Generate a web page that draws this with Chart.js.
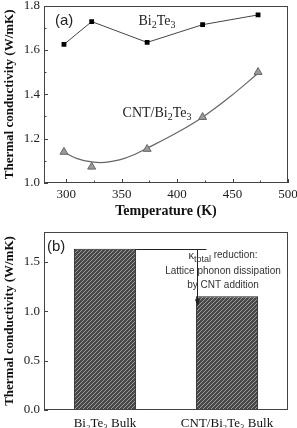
<!DOCTYPE html>
<html><head><meta charset="utf-8">
<script src="https://cdn.jsdelivr.net/npm/chart.js@4/dist/chart.umd.min.js"></script>
<style>
html,body{margin:0;padding:0;background:#fff;width:297px;height:428px;overflow:hidden}
canvas{position:absolute;left:0}
#c1{top:0}#c2{top:220px}
</style></head><body>
<canvas id="c1" width="297" height="220"></canvas>
<canvas id="c2" width="297" height="208"></canvas>
<script>
// ---- data ----
const temps = [298, 323, 373, 423, 473];
const bi2te3K = [1.625, 1.728, 1.634, 1.714, 1.758];
const cntK = [1.14, 1.073, 1.153, 1.297, 1.50];
const fitT = [298, 310, 323, 335, 348, 360, 373, 398, 423, 448, 473];
const fitK = [1.139, 1.110, 1.095, 1.093, 1.104, 1.125, 1.157, 1.222, 1.297, 1.39, 1.495];
const xTicksA = [300, 350, 400, 450, 500];
const xMinorA = [325, 375, 425, 475];
const yTicksA = [1.0, 1.2, 1.4, 1.6, 1.8];
const yMinorA = [1.1, 1.3, 1.5, 1.7];
const bulkCats = ['Bi\u2082Te\u2083 Bulk', 'CNT/Bi\u2082Te\u2083 Bulk'];
const bulkK = [1.63, 1.15];
const yTicksB = [0.0, 0.5, 1.0, 1.5];

const SERIF = "'Liberation Serif','Times New Roman',serif";
const SANS = "'Liberation Sans',Arial,sans-serif";

function drawChem(ctx, parts, x, y, size, align) {
  ctx.save();
  ctx.textBaseline = 'middle';
  ctx.textAlign = 'left';
  let w = 0;
  parts.forEach(p => { ctx.font = (p[1] ? Math.round(size*0.7) : size) + 'px ' + SERIF; w += ctx.measureText(p[0]).width; });
  let cx = align === 'center' ? x - w/2 : x;
  parts.forEach(p => {
    ctx.font = (p[1] ? Math.round(size*0.7) : size) + 'px ' + SERIF;
    ctx.fillText(p[0], cx, p[1] ? y + size*0.28 : y);
    cx += ctx.measureText(p[0]).width;
  });
  ctx.restore();
}

const framePlugin = {
  id: 'frame',
  afterDatasetsDraw(chart, args, opts) {
    const {ctx, chartArea: a, scales} = chart;
    ctx.save();
    ctx.strokeStyle = '#444';
    ctx.lineWidth = 1;
    ctx.strokeRect(Math.round(a.left)+0.5, Math.round(a.top)+0.5, Math.round(a.right-a.left)-1, Math.round(a.bottom-a.top)-1);
    const line = (x1,y1,x2,y2) => {ctx.beginPath();ctx.moveTo(x1,y1);ctx.lineTo(x2,y2);ctx.stroke();};
    if (opts.xMajor) opts.xMajor.forEach(v => { const x = Math.round(scales.x.getPixelForValue(v))+0.5; line(x, a.bottom, x, a.bottom-4); });
    if (opts.xMinor) opts.xMinor.forEach(v => { const x = Math.round(scales.x.getPixelForValue(v))+0.5; line(x, a.bottom, x, a.bottom-2.5); });
    if (opts.yMajor) opts.yMajor.forEach(v => { const y = Math.round(scales.y.getPixelForValue(v))+0.5; line(a.left, y, a.left+4, y); });
    if (opts.yMinor) opts.yMinor.forEach(v => { const y = Math.round(scales.y.getPixelForValue(v))+0.5; line(a.left, y, a.left+2.5, y); });
    ctx.restore();
  }
};

const labelsA = {
  id: 'labelsA',
  afterDraw(chart) {
    const {ctx} = chart;
    ctx.save();
    ctx.fillStyle = '#222';
    ctx.font = '15px ' + SANS;
    ctx.textBaseline = 'middle';
    ctx.fillText('(a)', 55, 21);
    drawChem(ctx, [['Bi',0],['2',1],['Te',0],['3',1]], 157, 21, 14, 'center');
    drawChem(ctx, [['CNT/Bi',0],['2',1],['Te',0],['3',1]], 157, 113, 14, 'center');
    ctx.restore();
  }
};

function fitW(w){ return s => { s.width = w; s.paddingTop = 0; s.paddingBottom = 0; }; }
function fitH(h){ return s => { s.height = h; s.paddingLeft = 0; s.paddingRight = 0; }; }

new Chart(document.getElementById('c1'), {
  type: 'scatter',
  data: {
    datasets: [
      { label: 'Bi2Te3', data: temps.map((t,i)=>({x:t,y:bi2te3K[i]})), showLine: true, tension: 0,
        borderColor: '#444', borderWidth: 1, pointStyle: 'rect', pointRadius: 3.4,
        pointBackgroundColor: '#000', pointBorderColor: '#000', pointBorderWidth: 0, order: 1 },
      { label: 'CNT/Bi2Te3', data: temps.map((t,i)=>({x:t,y:cntK[i]})), showLine: false,
        pointStyle: 'triangle', pointRadius: 4.6, pointBackgroundColor: '#9a9a9a',
        pointBorderColor: '#666', pointBorderWidth: 1, order: 0 },
      { label: 'fit', data: fitT.map((t,i)=>({x:t,y:fitK[i]})), showLine: true, tension: 0.4,
        borderColor: '#666', borderWidth: 1.2, pointRadius: 0, order: 2 }
    ]
  },
  options: {
    responsive: false, animation: false, devicePixelRatio: 1,
    layout: { padding: { top: 5, right: 9, left: 0, bottom: 0 } },
    plugins: { legend: { display: false }, tooltip: { enabled: false },
      frame: { xMajor: xTicksA, xMinor: xMinorA, yMajor: yTicksA, yMinor: yMinorA } },
    scales: {
      x: { type: 'linear', min: 280, max: 500,
        afterBuildTicks: s => { s.ticks = xTicksA.map(v => ({value: v})); },
        afterFit: fitH(37),
        grid: { display: false, drawTicks: false }, border: { display: false },
        ticks: { color: '#222', padding: 4, maxRotation: 0, font: { family: SERIF, size: 13 } },
        title: { display: true, text: 'Temperature (K)', color: '#111', padding: 0,
          font: { family: SERIF, size: 14, weight: 'bold' } } },
      y: { min: 1.0, max: 1.8,
        afterBuildTicks: s => { s.ticks = yTicksA.map(v => ({value: v})); },
        afterFit: fitW(44),
        grid: { display: false, drawTicks: false }, border: { display: false },
        ticks: { color: '#222', padding: 4, font: { family: SERIF, size: 13 }, callback: v => v.toFixed(1) },
        title: { display: true, text: 'Thermal conductivity (W/mK)', color: '#111', padding: { top: 2, bottom: 0 },
          font: { family: SERIF, size: 13, weight: 'bold' } } }
    }
  },
  plugins: [framePlugin, labelsA]
});

// hatch pattern
const pc = document.createElement('canvas');
pc.width = 4; pc.height = 4;
const pctx = pc.getContext('2d');
pctx.fillStyle = '#484848';
pctx.fillRect(0, 0, 4, 4);
pctx.strokeStyle = '#9c9c9c';
pctx.lineWidth = 1;
pctx.beginPath();
pctx.moveTo(0, 4); pctx.lineTo(4, 0);
pctx.moveTo(-1, 1); pctx.lineTo(1, -1);
pctx.moveTo(3, 5); pctx.lineTo(5, 3);
pctx.stroke();
const hatch = document.getElementById('c2').getContext('2d').createPattern(pc, 'repeat');

const annotB = {
  id: 'annotB',
  afterDraw(chart) {
    const {ctx, scales: {x, y}} = chart;
    const meta = chart.getDatasetMeta(0);
    const b0 = meta.data[0], b1 = meta.data[1];
    const half = b0.width / 2;
    const yTop = Math.round(y.getPixelForValue(bulkK[0])) + 0.5;
    const yArrow = y.getPixelForValue(bulkK[1]) + 6;
    const ax = Math.round(b1.x - half + 1) + 0.5;
    ctx.save();
    ctx.strokeStyle = '#222';
    ctx.fillStyle = '#222';
    ctx.lineWidth = 1;
    ctx.beginPath();
    ctx.moveTo(b0.x + half, yTop); ctx.lineTo(ax + 9, yTop);
    ctx.moveTo(ax, yTop); ctx.lineTo(ax, yArrow);
    ctx.stroke();
    ctx.beginPath();
    ctx.moveTo(ax, yArrow + 4); ctx.lineTo(ax - 2.5, yArrow - 3); ctx.lineTo(ax + 2.5, yArrow - 3); ctx.closePath();
    ctx.fill();
    ctx.fillStyle = '#333';
    ctx.textBaseline = 'middle';
    ctx.textAlign = 'left';
    const cx = b1.x - 4;
    const l1 = yTop + 7;
    ctx.font = '11px ' + SANS;
    const wK = ctx.measureText('\u03BA').width;
    ctx.font = '9px ' + SANS;
    const wT = ctx.measureText('total').width;
    ctx.font = '10px ' + SANS;
    const wR = ctx.measureText(' reduction:').width;
    let sx = cx - (wK + wT + wR) / 2;
    ctx.font = '11px ' + SANS; ctx.fillText('\u03BA', sx, l1 - 1); sx += wK;
    ctx.font = '9px ' + SANS; ctx.fillText('total', sx, l1 + 3); sx += wT;
    ctx.font = '10px ' + SANS; ctx.fillText(' reduction:', sx, l1 - 1);
    ctx.textAlign = 'center';
    ctx.fillText('Lattice phonon dissipation', cx, yTop + 22);
    ctx.fillText('by CNT addition', cx, yTop + 36);
    ctx.fillStyle = '#222';
    ctx.textAlign = 'left';
    ctx.font = '15px ' + SANS;
    ctx.fillText('(b)', 47, 27);
    ctx.restore();
  }
};

new Chart(document.getElementById('c2'), {
  type: 'bar',
  data: {
    labels: bulkCats,
    datasets: [{ data: bulkK, backgroundColor: hatch, borderColor: '#222', borderWidth: 1,
      barPercentage: 0.51, categoryPercentage: 1.0 }]
  },
  options: {
    responsive: false, animation: false, devicePixelRatio: 1,
    layout: { padding: { top: 12, right: 9, left: 0, bottom: 0 } },
    plugins: { legend: { display: false }, tooltip: { enabled: false },
      frame: { yMajor: yTicksB } },
    scales: {
      x: { afterFit: fitH(18),
        grid: { display: false, drawTicks: false }, border: { display: false },
        ticks: { color: '#111', padding: 6, maxRotation: 0, autoSkip: false, font: { family: SERIF, size: 13 } } },
      y: { min: 0, max: 1.8,
        afterBuildTicks: s => { s.ticks = yTicksB.map(v => ({value: v})); },
        afterFit: fitW(44),
        grid: { display: false, drawTicks: false }, border: { display: false },
        ticks: { color: '#222', padding: 4, font: { family: SERIF, size: 13 }, callback: v => v.toFixed(1) },
        title: { display: true, text: 'Thermal conductivity (W/mK)', color: '#111', padding: { top: 2, bottom: 0 },
          font: { family: SERIF, size: 13, weight: 'bold' } } }
    }
  },
  plugins: [framePlugin, annotB]
});
</script>
</body></html>
